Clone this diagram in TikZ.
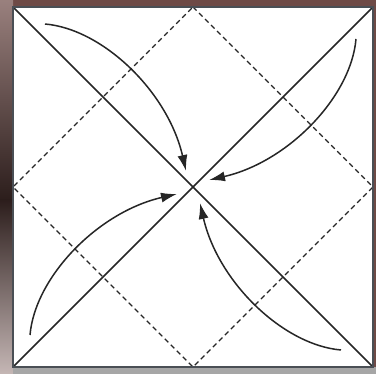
\documentclass[tikz,border=0pt]{standalone}
\usetikzlibrary{arrows.meta}
\definecolor{bgbrown}{HTML}{6E4A46}
\definecolor{frame}{HTML}{4A4F55}
\definecolor{ink}{HTML}{262626}
\tikzset{
  diag/.style={draw=ink,line width=1.5pt},
  fold/.style={draw=ink,line width=1.2pt,dash pattern=on 5pt off 3.5pt},
  swirl/.style={draw=ink,line width=1.5pt,-{Latex[length=16pt,width=10pt]}},
}
\begin{document}
\begin{tikzpicture}[x=1pt,y=-1pt]
\useasboundingbox (0,0) rectangle (376,374);
% background photo edges
\fill[bgbrown] (0,0) rectangle (376,374);
\shade[top color=bgbrown!70!white, bottom color=black!60!bgbrown] (0,0) rectangle (13,200);
\shade[top color=black!60!bgbrown, bottom color=bgbrown!40!white] (0,200) rectangle (13,374);
\fill[gray!70] (13,367) rectangle (376,374);
% square
\coordinate (tl) at (13,7);
\coordinate (tr) at (373,7);
\coordinate (br) at (373,367);
\coordinate (bl) at (13,367);
\coordinate (c) at (193,187);
\coordinate (mt) at (193,7);
\coordinate (mr) at (373,187);
\coordinate (mb) at (193,367);
\coordinate (ml) at (13,187);
\fill[white] (tl) rectangle (br);
% folds
\draw[fold] (mt) -- (mr) -- (mb) -- (ml) -- cycle;
\draw[diag] (tl) -- (br);
\draw[diag] (tr) -- (bl);
% arrows
\begin{scope}[shift={(c)}]
\coordinate (s1) at (-148,-163); \coordinate (e1) at (-7,-16);
\coordinate (s2) at (163,-148);  \coordinate (e2) at (16,-7);
\coordinate (s3) at (-163,148);  \coordinate (e3) at (-16,7);
\coordinate (s4) at (148,163);   \coordinate (e4) at (7,16);
\draw[swirl] (s1) .. controls (-90,-158) and (-25,-95) .. (e1);
\draw[swirl] (s2) .. controls (158,-90) and (95,-25) .. (e2);
\draw[swirl] (s4) .. controls (90,158) and (25,95) .. (e4);
\draw[swirl] (s3) .. controls (-158,90) and (-95,25) .. (e3);
\end{scope}
\draw[frame,line width=2.6pt] (tl) rectangle (br);
\end{tikzpicture}
\end{document}
